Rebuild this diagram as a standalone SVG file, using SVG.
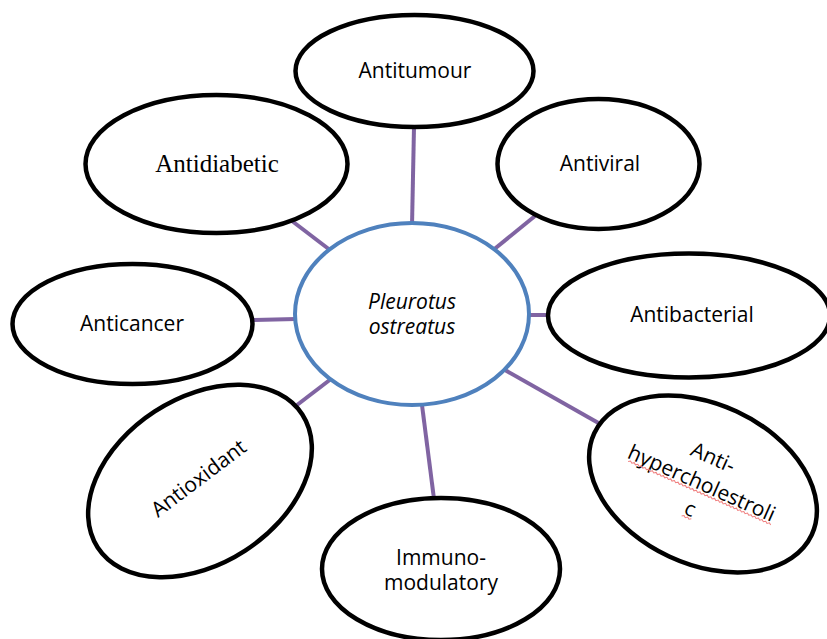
<svg xmlns="http://www.w3.org/2000/svg" width="827" height="639" viewBox="0 0 827 639">
<style>
.node{fill:#fff;stroke:#000;stroke-width:4.5}
.hub{fill:#fff;stroke:#4f81bd;stroke-width:4}
.conn line{stroke:#8064a2;stroke-width:4}
.t{font-family:"Open Sans","Liberation Sans",sans-serif;font-size:21px;fill:#000;text-anchor:middle}
.ts{font-family:"Liberation Serif","DejaVu Serif",serif;font-size:25px;fill:#000;text-anchor:middle}
.it{font-style:italic}
.sq{fill:none;stroke:#f08080;stroke-width:1}
</style>
<rect width="827" height="639" fill="#fff"/>
<g id="connectors" class="conn">
<line x1="414" y1="127" x2="412" y2="226"/>
<line x1="292" y1="221" x2="330" y2="250"/>
<line x1="535" y1="216" x2="492" y2="251"/>
<line x1="527" y1="315" x2="549" y2="315"/>
<line x1="254" y1="320" x2="296" y2="319"/>
<line x1="297" y1="405" x2="331" y2="379"/>
<line x1="422" y1="405" x2="434" y2="499"/>
<line x1="505" y1="370" x2="602" y2="425"/>
</g>
<g id="center">
<ellipse class="hub" cx="412" cy="314" rx="117" ry="91"/>
<text class="t it" x="412" y="309">Pleurotus</text>
<text class="t it" x="412" y="334">ostreatus</text>
</g>
<g id="antitumour">
<ellipse class="node" cx="414.5" cy="71" rx="119" ry="56"/>
<text class="t" x="415" y="78">Antitumour</text>
</g>
<g id="antidiabetic">
<ellipse class="node" cx="216.5" cy="164" rx="131" ry="69"/>
<text class="ts" x="217" y="172">Antidiabetic</text>
</g>
<g id="antiviral">
<ellipse class="node" cx="598.5" cy="164" rx="101" ry="65"/>
<text class="t" x="600" y="171">Antiviral</text>
</g>
<g id="antibacterial">
<ellipse class="node" cx="689" cy="315.5" rx="141" ry="62"/>
<text class="t" x="692" y="322">Antibacterial</text>
</g>
<g id="anticancer">
<ellipse class="node" cx="132.5" cy="324" rx="120" ry="60"/>
<text class="t" x="132" y="331">Anticancer</text>
</g>
<g id="antioxidant">
<ellipse class="node" cx="200" cy="481" rx="122" ry="83" transform="rotate(-33 200 481)"/>
<text class="t" transform="translate(203 484) rotate(-37)" x="0" y="0">Antioxidant</text>
</g>
<g id="immunomodulatory">
<ellipse class="node" cx="441" cy="569" rx="119" ry="71"/>
<text class="t" x="441" y="565">Immuno-</text>
<text class="t" x="441" y="590">modulatory</text>
</g>
<g id="antihypercholestrolic">
<ellipse class="node" cx="703" cy="484" rx="120" ry="80" transform="rotate(25 703 484)"/>
<g transform="translate(700 487) rotate(24)">
<text class="t" x="0" y="-25">Anti-</text>
<text class="t" x="0" y="3">hypercholestroli</text>
<text class="t" x="0" y="31">c</text>
<path class="sq" d="M-76 6 l2 -1.5 l2 1.5 l2 -1.5 l2 1.5 l2 -1.5 l2 1.5 l2 -1.5 l2 1.5 l2 -1.5 l2 1.5 l2 -1.5 l2 1.5 l2 -1.5 l2 1.5 l2 -1.5 l2 1.5 l2 -1.5 l2 1.5 l2 -1.5 l2 1.5 l2 -1.5 l2 1.5 l2 -1.5 l2 1.5 l2 -1.5 l2 1.5 l2 -1.5 l2 1.5 l2 -1.5 l2 1.5 l2 -1.5 l2 1.5 l2 -1.5 l2 1.5 l2 -1.5 l2 1.5 l2 -1.5 l2 1.5 l2 -1.5 l2 1.5 l2 -1.5 l2 1.5 l2 -1.5 l2 1.5 l2 -1.5 l2 1.5 l2 -1.5 l2 1.5 l2 -1.5 l2 1.5 l2 -1.5 l2 1.5 l2 -1.5 l2 1.5 l2 -1.5 l2 1.5 l2 -1.5 l2 1.5 l2 -1.5 l2 1.5 l2 -1.5 l2 1.5 l2 -1.5 l2 1.5 l2 -1.5 l2 1.5 l2 -1.5 l2 1.5 l2 -1.5 l2 1.5 l2 -1.5 l2 1.5 l2 -1.5 l2 1.5 l2 -1.5 l2 1.5 l2 -1.5 l2 1.5"/>
<path class="sq" d="M-5 34 l2 -1.5 l2 1.5 l2 -1.5 l2 1.5 l2 -1.5"/>
</g>
</g>
</svg>
